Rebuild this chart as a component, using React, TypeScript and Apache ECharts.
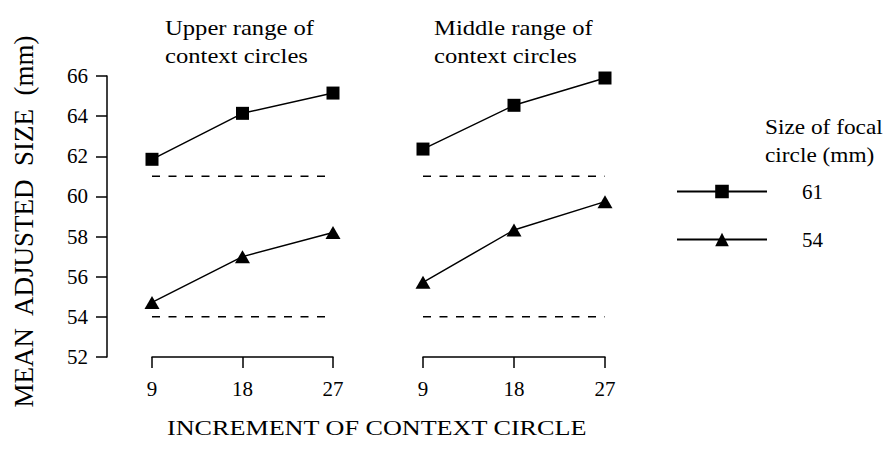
import React, { useEffect, useRef } from "react";
import * as echarts from "echarts";

// ---- data ----
const increments = [9, 18, 27];
const focalSizes = ["61", "54"];
const focalValues = [61, 54];
const upper61 = [61.85, 64.14, 65.15];
const upper54 = [54.72, 57.0, 58.2];
const middle61 = [62.36, 64.54, 65.9];
const middle54 = [55.72, 58.33, 59.74];
const yTicks = { min: 52, max: 66, step: 2 };
const panelTitles = ["Upper range of\ncontext circles", "Middle range of\ncontext circles"];
const xAxisTitle = "INCREMENT OF CONTEXT CIRCLE";
const yAxisTitle = "MEAN  ADJUSTED  SIZE  (mm)";
const legendTitle = "Size of focal\ncircle (mm)";

const FONT = "Liberation Serif";

export default function App() {
  const ref = useRef<HTMLDivElement>(null);
  useEffect(() => {
    document.body.style.margin = "0";
    if (!ref.current) return;
    const chart = echarts.init(ref.current, null, { renderer: "svg" });
    const pair = (ys: number[]) => increments.map((x, i) => [x, ys[i]]);
    const axisLineStyle = { color: "#000", width: 1.5 };
    const xAxisBase = {
      type: "value",
      min: 9,
      max: 27,
      interval: 9,
      splitLine: { show: false },
      axisLine: { show: true, lineStyle: axisLineStyle },
      axisTick: { show: true, length: 11, lineStyle: axisLineStyle },
      axisLabel: { color: "#000", fontFamily: FONT, fontSize: 21, margin: 21 },
    };
    const yAxisBase = {
      type: "value",
      min: yTicks.min,
      max: yTicks.max,
      interval: yTicks.step,
      splitLine: { show: false },
    };
    const dataSeries = (name: string, ys: number[], axis: number, symbol: string, size: any) => ({
      type: "line",
      name,
      xAxisIndex: axis,
      yAxisIndex: axis,
      data: pair(ys),
      symbol,
      symbolSize: size,
      lineStyle: { color: "#000", width: 1.5 },
      itemStyle: { color: "#000" },
      z: 3,
    });
    const refSeries = (v: number, axis: number) => ({
      type: "line",
      name: "ref" + v + "_" + axis,
      xAxisIndex: axis,
      yAxisIndex: axis,
      data: [
        [increments[0], v],
        [increments[increments.length - 1], v],
      ],
      symbol: "none",
      lineStyle: { color: "#000", width: 1.5, type: [8, 8.5] },
      silent: true,
      z: 2,
    });
    const textStyle = (text: string, size: number) => ({
      text,
      fontFamily: FONT,
      fontSize: size,
      fill: "#000",
      lineHeight: 28,
    });
    const option: any = {
      animation: false,
      backgroundColor: "#fff",
      textStyle: { fontFamily: FONT },
      grid: [
        { left: 152, top: 76, width: 181, height: 281 },
        { left: 423, top: 76, width: 182, height: 281 },
      ],
      xAxis: [
        { ...xAxisBase, gridIndex: 0 },
        { ...xAxisBase, gridIndex: 1 },
      ],
      yAxis: [
        {
          ...yAxisBase,
          gridIndex: 0,
          offset: 45,
          axisLine: { show: true, lineStyle: axisLineStyle },
          axisTick: { show: true, length: 11, lineStyle: axisLineStyle },
          axisLabel: { color: "#000", fontFamily: FONT, fontSize: 21, margin: 19 },
          name: yAxisTitle,
          nameLocation: "middle",
          nameRotate: 90,
          nameGap: 70,
          nameTextStyle: { color: "#000", fontFamily: FONT, fontSize: 27, padding: [0, 10, 0, 0] },
        },
        { ...yAxisBase, gridIndex: 1, show: false },
      ],
      legend: {
        data: focalSizes,
        orient: "vertical",
        left: 671,
        top: 176,
        itemWidth: 90,
        itemHeight: 17,
        itemGap: 27,
        selectedMode: false,
        textStyle: { color: "#000", fontFamily: FONT, fontSize: 21, padding: [0, 0, 0, 30] },
      },
      graphic: [
        { type: "text", left: 165, top: 13, scaleX: 1.12, style: textStyle(panelTitles[0], 22) },
        { type: "text", left: 434, top: 13, scaleX: 1.12, style: textStyle(panelTitles[1], 22) },
        { type: "text", left: 765, top: 113, scaleX: 1.06, style: textStyle(legendTitle, 22) },
        { type: "text", left: 167, top: 417, scaleX: 1.245, style: { text: xAxisTitle, fontFamily: FONT, fontSize: 21, fill: "#000" } },
      ],
      series: [
        refSeries(focalValues[0], 0),
        refSeries(focalValues[1], 0),
        refSeries(focalValues[0], 1),
        refSeries(focalValues[1], 1),
        dataSeries(focalSizes[0], upper61, 0, "rect", 13),
        dataSeries(focalSizes[1], upper54, 0, "triangle", [15, 13]),
        dataSeries(focalSizes[0], middle61, 1, "rect", 13),
        dataSeries(focalSizes[1], middle54, 1, "triangle", [15, 13]),
      ],
    };
    chart.setOption(option);
    return () => chart.dispose();
  }, []);
  return <div ref={ref} style={{ width: 891, height: 450 }} />;
}
